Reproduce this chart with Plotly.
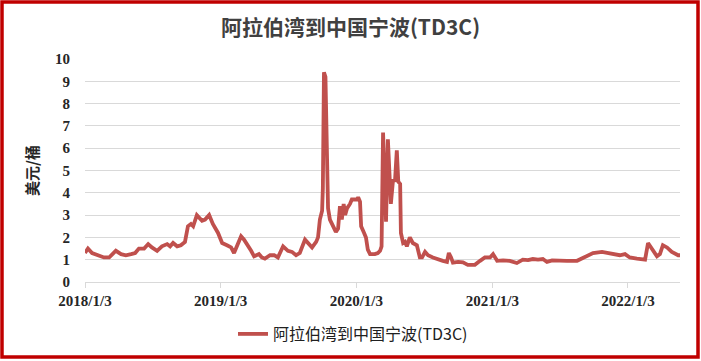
import plotly.graph_objects as go

series_name = "阿拉伯湾到中国宁波(TD3C)"
chart_title = "阿拉伯湾到中国宁波(TD3C)"
y_title = "美元/桶"

dates = [
    "2018-01-03", "2018-01-11", "2018-01-22", "2018-02-07", "2018-02-23", "2018-03-09",
    "2018-03-19", "2018-03-27", "2018-04-10", "2018-04-23", "2018-05-07", "2018-05-18",
    "2018-05-28", "2018-06-11", "2018-06-22", "2018-07-02", "2018-07-16", "2018-07-29",
    "2018-08-12", "2018-08-20", "2018-08-28", "2018-09-08", "2018-09-18", "2018-09-29",
    "2018-10-07", "2018-10-15", "2018-10-21", "2018-10-31", "2018-11-14", "2018-11-22",
    "2018-12-03", "2018-12-13", "2018-12-27", "2019-01-07", "2019-01-20", "2019-01-31",
    "2019-02-08", "2019-02-19", "2019-02-27", "2019-03-07", "2019-03-18", "2019-03-26",
    "2019-04-03", "2019-04-16", "2019-04-24", "2019-05-02", "2019-05-16", "2019-05-27",
    "2019-06-06", "2019-06-20", "2019-07-03", "2019-07-14", "2019-07-25", "2019-08-04",
    "2019-08-18", "2019-08-29", "2019-09-06", "2019-09-17", "2019-09-22", "2019-09-27",
    "2019-10-03", "2019-10-05", "2019-10-08", "2019-10-12", "2019-10-16", "2019-10-19",
    "2019-10-24", "2019-11-01", "2019-11-09", "2019-11-15", "2019-11-20", "2019-11-25",
    "2019-11-30", "2019-12-04", "2019-12-09", "2019-12-17", "2019-12-22", "2020-01-05",
    "2020-01-08", "2020-01-13", "2020-01-16", "2020-01-24", "2020-01-29", "2020-02-03",
    "2020-02-09", "2020-02-22", "2020-03-01", "2020-03-07", "2020-03-11", "2020-03-15",
    "2020-03-23", "2020-03-28", "2020-04-05", "2020-04-11", "2020-04-16", "2020-04-21",
    "2020-04-25", "2020-04-30", "2020-05-02", "2020-05-08", "2020-05-13", "2020-05-18",
    "2020-05-26", "2020-06-03", "2020-06-14", "2020-06-22", "2020-06-28", "2020-07-06",
    "2020-07-14", "2020-07-27", "2020-08-10", "2020-08-23", "2020-09-03", "2020-09-08",
    "2020-09-14", "2020-09-19", "2020-10-03", "2020-10-16", "2020-10-29", "2020-11-17",
    "2020-12-01", "2020-12-14", "2020-12-28", "2021-01-05", "2021-01-16", "2021-02-01",
    "2021-02-19", "2021-03-10", "2021-03-26", "2021-04-09", "2021-04-22", "2021-05-06",
    "2021-05-19", "2021-05-30", "2021-06-13", "2021-06-26", "2021-07-23", "2021-08-19",
    "2021-09-15", "2021-10-01", "2021-10-25", "2021-11-16", "2021-12-12", "2021-12-26",
    "2022-01-08", "2022-01-27", "2022-02-18", "2022-02-26", "2022-03-11", "2022-03-22",
    "2022-03-30", "2022-04-07", "2022-04-18", "2022-05-01", "2022-05-18", "2022-05-23",
]

values = [
    1.3, 1.5, 1.3, 1.2, 1.1, 1.1,
    1.3, 1.4, 1.25, 1.2, 1.25, 1.3,
    1.5, 1.5, 1.7, 1.55, 1.4, 1.6,
    1.7, 1.6, 1.75, 1.6, 1.65, 1.8,
    2.5, 2.6, 2.5, 3.0, 2.75, 2.8,
    3.0, 2.6, 2.2, 1.75, 1.65, 1.55,
    1.3, 1.7, 2.05, 1.9, 1.65, 1.4,
    1.15, 1.25, 1.1, 1.05, 1.2, 1.2,
    1.1, 1.6, 1.4, 1.35, 1.2, 1.3,
    1.9, 1.7, 1.55, 1.8, 2.0, 2.8,
    3.2, 4.2, 9.4, 9.2, 4.0, 3.3,
    2.8, 2.5, 2.25, 2.4, 3.4, 2.8,
    3.5, 3.0, 3.3, 3.5, 3.7, 3.7,
    3.8, 3.6, 2.5, 2.2, 2.0, 1.45,
    1.25, 1.25, 1.3, 1.4, 1.6, 6.7,
    2.7, 6.4, 3.5, 4.6, 4.5, 5.9,
    4.5, 4.4, 2.2, 1.75, 1.8, 1.6,
    2.0, 1.75, 1.65, 1.1, 1.1, 1.35,
    1.2, 1.1, 1.0, 0.95, 0.9, 1.3,
    1.1, 0.87, 0.9, 0.88, 0.77, 0.77,
    0.95, 1.1, 1.1, 1.25, 0.95, 0.97,
    0.95, 0.85, 1.0, 0.98, 1.03, 1.0,
    1.03, 0.9, 0.97, 0.95, 0.95, 0.95,
    1.2, 1.3, 1.35, 1.3, 1.2, 1.25,
    1.1, 1.05, 1.0, 1.75, 1.45, 1.15,
    1.25, 1.65, 1.55, 1.35, 1.2, 1.2,
]

tick_dates = ["2018-01-03", "2019-01-03", "2020-01-03", "2021-01-03", "2022-01-03"]
tick_labels = ["2018/1/3", "2019/1/3", "2020/1/3", "2021/1/3", "2022/1/3"]
y_ticks = list(range(0, 11))

W, H = 701, 361
ml, mr, mt, mb = 85, 21, 59, 79
pw, ph = W - ml - mr, H - mt - mb

fig = go.Figure()
fig.add_trace(go.Scatter(
    x=dates, y=values, mode="lines", name=series_name,
    line=dict(color="#C0504D", width=3.8),
))

fig.update_layout(
    width=W, height=H,
    margin=dict(l=ml, r=mr, t=mt, b=mb, autoexpand=False),
    paper_bgcolor="white", plot_bgcolor="white",
    title=dict(text=chart_title, x=0.5, xanchor="center", y=1 - 28 / H, yanchor="middle",
               font=dict(family="Noto Sans CJK SC", size=21, color="#404040", weight="bold")),
    showlegend=True,
    legend=dict(orientation="h", x=(353 - ml) / pw, xanchor="center", y=-(334 - 282) / ph,
                yanchor="middle",
                font=dict(family="Noto Sans CJK SC", size=16, color="#202020"),
                bgcolor="rgba(0,0,0,0)"),
    xaxis=dict(
        type="date", range=["2018-01-03", "2022-05-23"],
        tickvals=tick_dates, ticktext=tick_labels,
        showgrid=False, zeroline=False,
        showline=True, linecolor="#d9d9d9", linewidth=1,
        ticks="outside", ticklen=5, tickcolor="#d9d9d9",
        tickfont=dict(family="Liberation Serif", size=15, color="#262626", weight="bold"),
    ),
    yaxis=dict(
        range=[0, 10], tickvals=y_ticks,
        showgrid=True, gridcolor="#d9d9d9", gridwidth=1,
        zeroline=False, showline=False,
        ticklabelstandoff=14,
        tickfont=dict(family="Liberation Serif", size=15, color="#262626", weight="bold"),
        title=dict(text=y_title, standoff=12,
                   font=dict(family="Noto Sans CJK SC", size=15, color="#262626", weight="bold")),
    ),
    shapes=[dict(
        type="rect", xref="paper", yref="paper",
        x0=(2 - ml) / pw, x1=(698 - ml) / pw,
        y0=-(357 - mt - ph) / ph, y1=1 + (mt - 2) / ph,
        line=dict(color="#C00000", width=3.5), fillcolor="rgba(0,0,0,0)", layer="above",
    )],
)

fig.write_html("out.html", config={"displayModeBar": False},
               post_script="document.body.style.margin='0';document.body.style.overflow='hidden';")
